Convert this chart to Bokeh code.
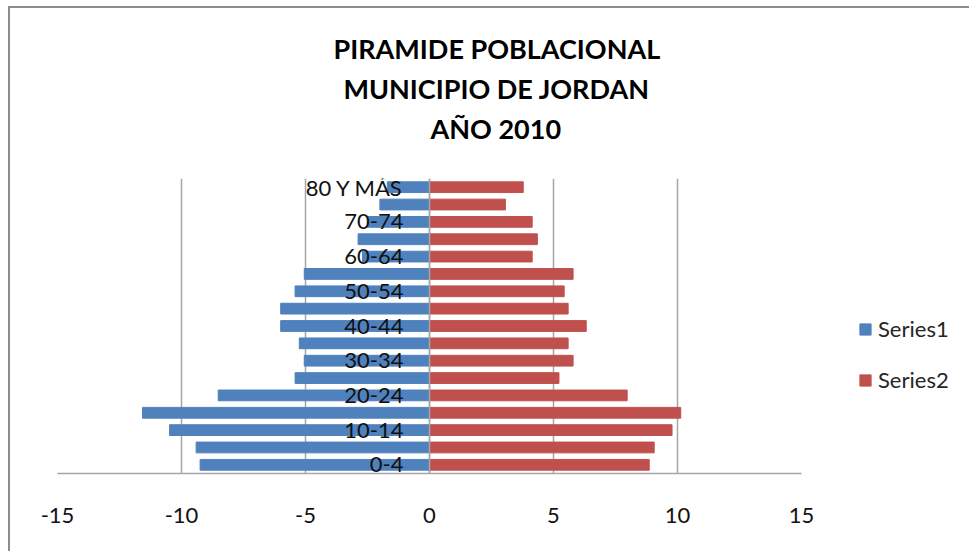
from bokeh.plotting import figure
from bokeh.models import (Range1d, FactorRange, FixedTicker, Title, Legend, LegendItem,
                          Span, ColumnDataSource)
from bokeh.core.properties import value
from bokeh.embed import file_html
from bokeh.resources import INLINE

# ---- data ----
age_groups = ["0-4", "5-9", "10-14", "15-19", "20-24", "25-29", "30-34", "35-39",
              "40-44", "45-49", "50-54", "55-59", "60-64", "65-69", "70-74", "75-79",
              "80 Y MÁS"]
series1 = [-9.25, -9.41, -10.48, -11.57, -8.52, -5.42, -5.05, -5.25,
           -6.0, -6.0, -5.42, -5.05, -2.7, -2.88, -2.51, -2.0, -1.7]
series2 = [8.86, 9.06, 9.78, 10.13, 7.97, 5.22, 5.79, 5.59,
           6.32, 5.59, 5.43, 5.79, 4.14, 4.35, 4.14, 3.06, 3.78]
shown_labels = ["0-4", "10-14", "20-24", "30-34", "40-44", "50-54", "60-64",
                "70-74", "80 Y MÁS"]
x_ticks = [-15, -10, -5, 0, 5, 10, 15]
x_tick_labels = ["-15", "-10", "-5", "0", "5", "10", "15"]
title_lines = ["PIRAMIDE POBLACIONAL", "MUNICIPIO DE JORDAN", "AÑO 2010"]
series_names = ["Series1", "Series2"]

FONT = "Lato"
BLUE = "#4F81BD"
RED = "#C0504D"
GRID = "#a6a6a6"

src = ColumnDataSource(dict(age=age_groups, s1=series1, s2=series2,
                            zero=[0] * len(age_groups)))
lab_src = ColumnDataSource(dict(age=shown_labels, x=[0] * len(shown_labels)))

p = figure(title=None,
           y_range=FactorRange(*age_groups, range_padding=0),
           x_range=Range1d(-15, 15),
           frame_width=744, frame_height=295,
           min_border_left=47, min_border_right=158,
           min_border_top=10, min_border_bottom=78,
           output_backend="svg", toolbar_location=None)
p.outline_line_color = None
p.background_fill_color = "white"
p.border_fill_color = "white"
p.styles = {"margin-left": "8px", "margin-top": "6px",
            "border-top": "2px solid #8c8c8c", "border-left": "2px solid #8c8c8c"}

r1 = p.hbar(y="age", left="s1", right="zero", height=0.62, source=src,
            fill_color=BLUE, line_color=BLUE)
r2 = p.hbar(y="age", left="zero", right="s2", height=0.62, source=src,
            fill_color=RED, line_color=RED)

# zero axis line on top of bars
p.add_layout(Span(location=0, dimension="height", line_color=GRID, line_width=1.5,
                  level="overlay"))

# category labels drawn next to the vertical axis
p.text(x="x", y="age", text="age", source=lab_src, x_offset=-26,
       text_align="right", text_baseline="middle",
       text_font=value(FONT), text_font_size="22px", text_color="#111111")

# axes
p.yaxis.visible = False
p.ygrid.visible = False
p.xgrid.ticker = FixedTicker(ticks=x_ticks)
p.xgrid.grid_line_color = GRID
p.xgrid.grid_line_width = 1.5
xa = p.xaxis[0]
xa.ticker = FixedTicker(ticks=x_ticks)
xa.major_label_overrides = {t: s for t, s in zip(x_ticks, x_tick_labels)}
xa.axis_line_color = GRID
xa.axis_line_width = 1.5
xa.major_tick_line_color = None
xa.minor_tick_line_color = None
xa.major_tick_in = 0
xa.major_tick_out = 0
xa.major_label_standoff = 34
xa.major_label_text_font = FONT
xa.major_label_text_font_size = "22px"
xa.major_label_text_color = "#111111"

# titles, stacked from the frame outwards (innermost first)
def spacer(standoff):
    return Title(text=" ", text_font_size="1px", standoff=standoff)

p.add_layout(spacer(28), "above")
title_offsets = [276, 286, 373]
for txt, off in reversed(list(zip(title_lines, title_offsets))):
    p.add_layout(Title(text=txt, align="left", offset=off, standoff=5,
                       text_font=FONT, text_font_size="27px", text_font_style="bold",
                       text_color="#000000"), "above")
p.add_layout(spacer(16), "above")

# legend
legend = Legend(items=[LegendItem(label=series_names[0], renderers=[r1]),
                       LegendItem(label=series_names[1], renderers=[r2])],
                location=(57, 80), padding=0, margin=0, spacing=24,
                glyph_width=14, glyph_height=14, label_standoff=6,
                label_text_font=FONT, label_text_font_size="22px",
                label_text_color="#262626",
                border_line_color=None, background_fill_alpha=0)
p.add_layout(legend, "right")

open("out.html", "w").write(file_html(p, INLINE))
